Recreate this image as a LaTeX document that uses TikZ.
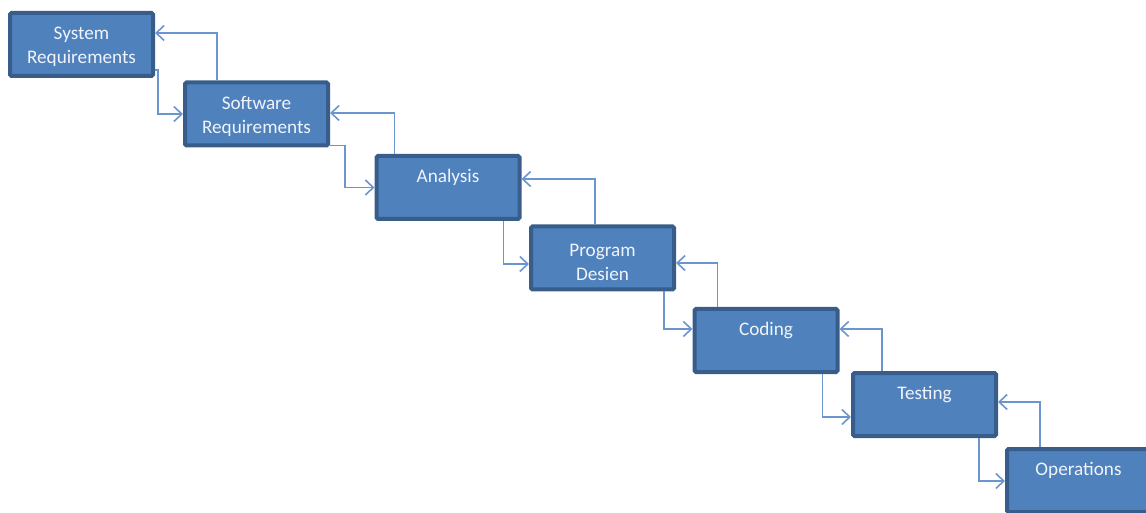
\documentclass[tikz,border=0pt]{standalone}
\usepackage{fontspec}
\setmainfont{Carlito}
\usetikzlibrary{arrows.meta}
\definecolor{boxfill}{HTML}{4F81BD}
\definecolor{boxline}{HTML}{385D8A}
\definecolor{arrline}{HTML}{6B95CE}
\definecolor{boxtext}{HTML}{F0F4FA}
\begin{document}
\begin{tikzpicture}[x=1pt,y=1pt,
  stage/.style={draw=boxline, fill=boxfill, line width=4pt, rounded corners=1.5pt,
    minimum width=143pt, minimum height=63pt, inner sep=0pt},
  lbl/.style={inner sep=0pt, align=center, text=boxtext,
    font=\fontsize{19.2}{24}\selectfont},
  conn/.style={draw=arrline, line width=1.8pt,
    -{Straight Barb[length=8pt,width=15pt,line width=1.6pt]}}]
\useasboundingbox (0,0) rectangle (1146,512);
\node[stage] (s1) at (81.5,467.5) {};
\node[stage] (s2) at (256.5,398) {};
\node[stage] (s3) at (448,324.5) {};
\node[stage] (s4) at (602.5,254) {};
\node[stage] (s5) at (766,171.5) {};
\node[stage] (s6) at (924.5,107.5) {};
\node[stage] (s7) at (1078.5,31.5) {};
\node[lbl] (t1) at ([yshift=-2]s1.center) {System\\Requirements};
\node[lbl] (t2) at ([yshift=-2]s2.center) {Software\\Requirements};
\node[lbl] (t3) at ([yshift=10]s3.center) {Analysis};
\node[lbl] (t4) at ([yshift=-4]s4.center) {Program\\Desien};
\node[lbl] (t5) at ([yshift=10]s5.center) {Coding};
\node[lbl] (t6) at ([yshift=10]s6.center) {Testing};
\node[lbl] (t7) at ([yshift=10]s7.center) {Operations};
% forward arrows
\draw[conn] ([yshift=8]s1.south east) -- ++(3,0) |- (s2.west);
\draw[conn] ([yshift=2]s2.south east) -- ++(15,0) |- (s3.west);
\draw[conn] ([xshift=-18]s3.south east) |- ([yshift=-6]s4.west);
\draw[conn] ([xshift=-12]s4.south east) |- ([yshift=11.5]s5.west);
\draw[conn] ([xshift=-17]s5.south east) |- ([yshift=-12.5]s6.west);
\draw[conn] ([xshift=-19]s6.south east) |- ([yshift=-0.5]s7.west);
% backward arrows
\draw[conn] ([xshift=34]s2.north west) |- ([yshift=11.5]s1.east);
\draw[conn] ([xshift=20]s3.north west) |- ([yshift=1]s2.east);
\draw[conn] ([xshift=66]s4.north west) |- ([yshift=8.5]s3.east);
\draw[conn] ([xshift=25]s5.north west) |- ([yshift=-5]s4.east);
\draw[conn] ([xshift=31]s6.north west) |- ([yshift=11.5]s5.east);
\draw[conn] ([xshift=35]s7.north west) |- ([yshift=2.5]s6.east);
\end{tikzpicture}
\end{document}
